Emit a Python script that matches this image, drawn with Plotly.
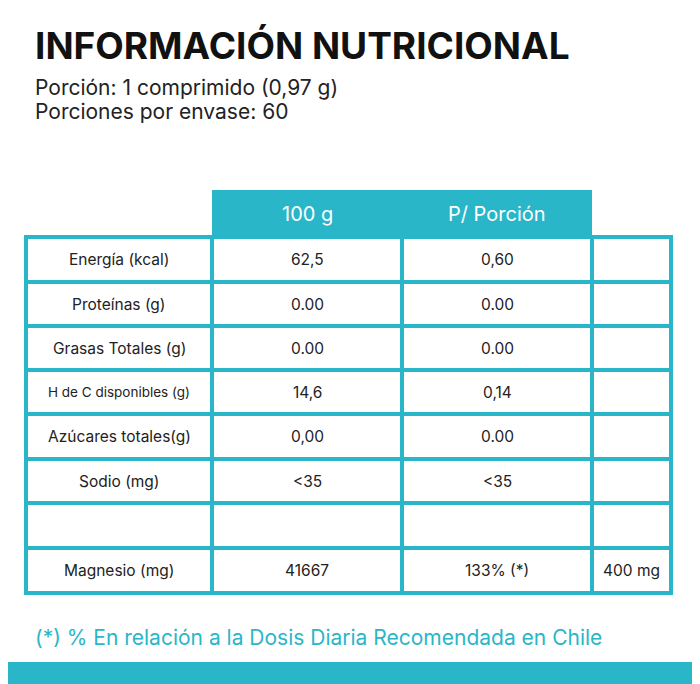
import plotly.graph_objects as go

title = "INFORMACIÓN NUTRICIONAL"
subtitle = ["Porción: 1 comprimido (0,97 g)", "Porciones por envase: 60"]
headers = ["100 g", "P/ Porción"]
nutrients = ["Energía (kcal)", "Proteínas (g)", "Grasas Totales (g)", "H de C disponibles (g)",
             "Azúcares totales(g)", "Sodio (mg)", "", "Magnesio (mg)"]
per100 = ["62,5", "0.00", "0.00", "14,6", "0,00", "<35", "", "41667"]
perPortion = ["0,60", "0.00", "0.00", "0,14", "0.00", "<35", "", "133% (*)"]
extra = ["", "", "", "", "", "", "", "400 mg"]
footnote = "(*) % En relación a la Dosis Diaria Recomendada en Chile"

CYAN = "#29b6c9"
col_x = [26, 212, 402, 592, 671]
row_y = [237, 282, 326, 370, 414, 459, 503, 548, 593]

fig = go.Figure()
shapes = []
ann = []
shapes.append(dict(type="rect", x0=col_x[1], x1=col_x[3], y0=190, y1=row_y[0], fillcolor=CYAN, line_width=0, layer="below"))
for i, h in enumerate(headers):
    ann.append(dict(x=(col_x[i+1]+col_x[i+2])/2, y=(190+row_y[0])/2, text=h, showarrow=False,
                    font=dict(size=20, color="white", family="Inter")))
for x in col_x:
    shapes.append(dict(type="line", x0=x, x1=x, y0=row_y[0], y1=row_y[-1], line=dict(color=CYAN, width=4)))
for y in row_y:
    shapes.append(dict(type="line", x0=col_x[0]-2, x1=col_x[-1]+2, y0=y, y1=y, line=dict(color=CYAN, width=4)))
cols = [nutrients, per100, perPortion, extra]
for r in range(len(nutrients)):
    yc = (row_y[r]+row_y[r+1])/2
    for c, data in enumerate(cols):
        if data[r]:
            size = 13.5 if (c == 0 and r == 3) else 15.5
            ann.append(dict(x=(col_x[c]+col_x[c+1])/2, y=yc, text=data[r], showarrow=False,
                            font=dict(size=size, color="#222", family="Inter")))
shapes.append(dict(type="rect", x0=0, x1=710, y0=662, y1=700, fillcolor=CYAN, line_width=0))
ann.append(dict(x=33, y=45, text=f"<b>{title}</b>", showarrow=False, xanchor="left",
                font=dict(size=37, color="#111", family="Inter")))
for i, s in enumerate(subtitle):
    ann.append(dict(x=33, y=87+24*i, text=s, showarrow=False, xanchor="left",
                    font=dict(size=21, color="#222", family="Inter")))
ann.append(dict(x=33, y=637, text=footnote, showarrow=False, xanchor="left",
                font=dict(size=21, color=CYAN, family="Inter")))

fig.update_layout(width=700, height=684, margin=dict(l=0, r=0, t=0, b=0),
                  plot_bgcolor="white", paper_bgcolor="white", shapes=shapes, annotations=ann,
                  xaxis=dict(range=[8, 708], visible=False, fixedrange=True),
                  yaxis=dict(range=[692, 8], visible=False, fixedrange=True), showlegend=False)
fig.write_html("out.html")
